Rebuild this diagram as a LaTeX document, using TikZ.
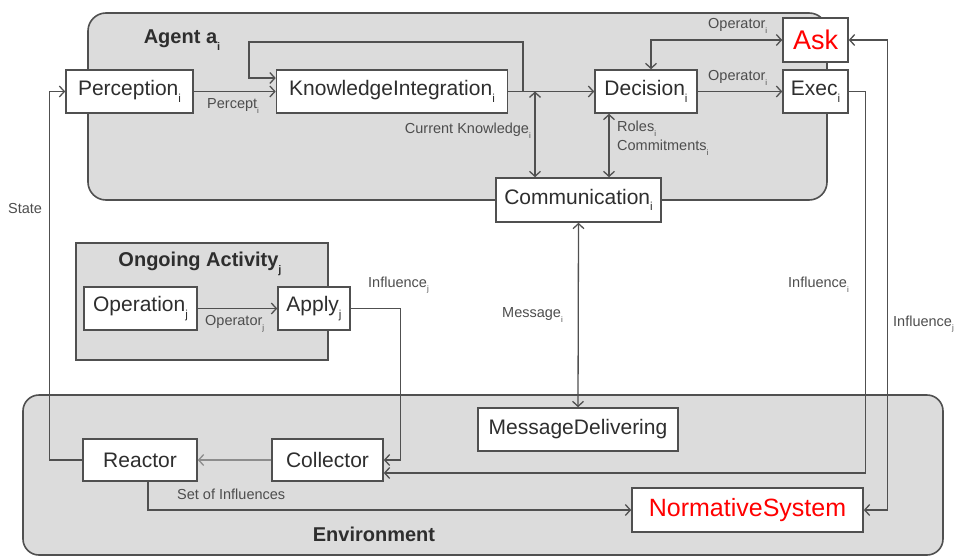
\documentclass[tikz,border=0pt]{standalone}
\usepackage{fontspec}
\setmainfont{Liberation Sans}
\usetikzlibrary{arrows.meta}
\definecolor{groupfill}{HTML}{DCDCDC}
\definecolor{edge}{HTML}{505050}
\definecolor{ink}{HTML}{2E2E2E}
\definecolor{alert}{HTML}{FF0000}
% small lowered index, as in Perception_i
\newcommand\sbs[1]{\raisebox{-0.6ex}{\scalebox{0.55}{#1}}}
\begin{document}
\begin{tikzpicture}[x=1pt,y=-1pt,
  group/.style={draw=edge, line width=1.6pt, fill=groupfill},
  comp/.style={draw=edge, line width=1.6pt, fill=white, inner sep=0pt,
    minimum height=43pt, text=ink, font=\fontsize{21}{25}\selectfont},
  tip/.tip={Straight Barb[length=5pt,width=11pt]},
  flow/.style={draw=edge, line width=1.3pt, -tip},
  twoway/.style={draw=edge, line width=1.3pt, tip-tip},
  lbl/.style={text=ink!85, font=\fontsize{14.5}{16}\selectfont, inner sep=0pt, anchor=west},
  title/.style={text=ink, font=\bfseries\fontsize{20}{24}\selectfont}
]
\useasboundingbox (0,0) rectangle (957,557);

% containers
\draw[group, rounded corners=18pt] (88,13) rectangle (827,200);
\draw[group, rounded corners=16pt] (23,395) rectangle (943,555);
\draw[group] (76,243) rectangle (328,360);

\node[title] (tAgent) at (182,40) {Agent a\sbs{i}};
\node[title] (tOngoing) at (200,264) {Ongoing Activity\sbs{j}};
\node[title] (tEnv) at (374,534) {Environment};

% agent components
\node[comp, minimum width=127pt] (perc) at (129.5,91.5) {Perception\sbs{i}};
\node[comp, minimum width=231pt] (ki) at (392,91.5) {KnowledgeIntegration\sbs{i}};
\node[comp, minimum width=102pt] (dec) at (646,91.5) {Decision\sbs{i}};
\node[comp, minimum width=65pt] (exec) at (815.5,91.5) {Exec\sbs{i}};
\node[comp, minimum width=65pt, minimum height=44pt, text=alert,
  font=\fontsize{27}{30}\selectfont] (ask) at (815.5,40) {Ask};
\node[comp, minimum width=165pt, minimum height=44pt] (comm) at (578.5,200) {Communication\sbs{i}};

% ongoing activity components
\node[comp, minimum width=113pt] (op) at (140.5,308.5) {Operation\sbs{j}};
\node[comp, minimum width=72pt] (apply) at (314,308.5) {Apply\sbs{j}};

% environment components
\node[comp, minimum width=114pt, minimum height=42pt] (reac) at (140,460) {Reactor};
\node[comp, minimum width=111pt, minimum height=42pt] (coll) at (327.5,460) {Collector};
\node[comp, minimum width=200pt] (md) at (578,429.5) {MessageDelivering};
\node[comp, minimum width=231pt, minimum height=44pt, text=alert,
  font=\fontsize{25}{28}\selectfont] (ns) at (747.5,510) {NormativeSystem};

% junction points on the knowledge line
\coordinate (kj) at (523,91.5);
\coordinate (kc) at (535,91.5);
\coordinate (dc) at (609,91.5);

% connectors
\draw[flow] (perc.east) -- (ki.west);
\draw[flow] (ki.east) -- (dec.west);
\draw[flow] (kj) |- (249,42) |- ([yshift=13.5pt]ki.west);
\draw[twoway] (kc) -- (kc |- comm.north);
\draw[twoway] (dc |- dec.south) -- (dc |- comm.north);
\draw[twoway] (ask.west) -| ([xshift=5pt]dec.north);
\draw[flow] (dec.east) -- (exec.west);
\draw[flow] (exec.east) -- ++(17,0) |- ([yshift=-13pt]coll.east);
\draw[twoway] (ns.east) -- ++(24,0) |- (ask.east);
\draw[twoway] (comm.south) -- (md.north);
\draw[flow] (op.east) -- (apply.west);
\draw[flow] (apply.east) -- ++(50,0) |- (coll.east);
\draw[flow, draw=edge!65] (coll.west) -- (reac.east);
\draw[flow] (reac.west) -- ++(-33,0) |- (perc.west);
\draw[flow] ([xshift=8pt]reac.south) |- (ns.west);

% connector labels
\node[lbl] (lPercept) at (207,106) {Percept\sbs{i}};
\node[lbl, anchor=east] (lKnow) at (531,131) {Current Knowledge\sbs{i}};
\node[lbl] (lRoles) at (617,129) {Roles\sbs{i}};
\node[lbl] (lCommit) at (617,148) {Commitments\sbs{i}};
\node[lbl] (lOpAsk) at (708,26) {Operator\sbs{i}};
\node[lbl] (lOpExec) at (708,78) {Operator\sbs{i}};
\node[lbl] (lInfI) at (788,285) {Influence\sbs{i}};
\node[lbl] (lInfNS) at (893,324) {Influence\sbs{j}};
\node[lbl] (lMsg) at (502,315) {Message\sbs{i}};
\node[lbl] (lInfApply) at (368,285) {Influence\sbs{j}};
\node[lbl] (lOpJ) at (205,324) {Operator\sbs{j}};
\node[lbl] (lState) at (8,209) {State};
\node[lbl] (lSet) at (177,494) {Set of Influences};
\end{tikzpicture}
\end{document}
